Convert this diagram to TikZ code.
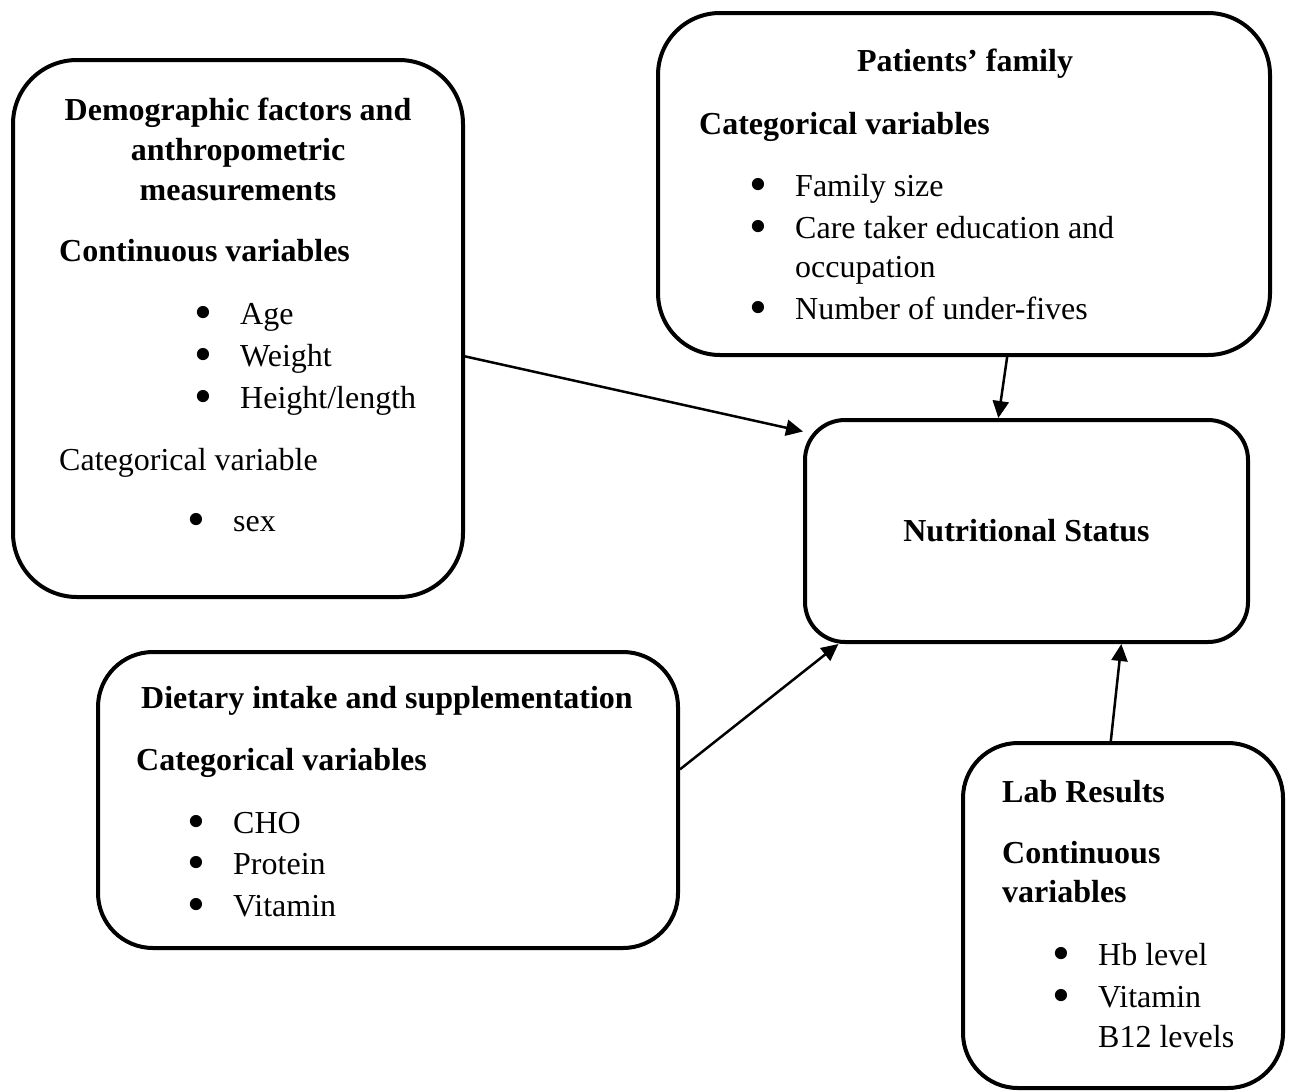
\documentclass[tikz,border=0pt]{standalone}
\usepackage{fontspec}
\setmainfont{Liberation Serif}
\usetikzlibrary{arrows.meta}

\newcommand{\bul}{\llap{\smash{\raisebox{-5pt}{\scalebox{1.6}{\textbullet}}}\hspace{28pt}}}

\tikzset{
  box/.style={draw, line width=4pt, rounded corners=55pt, inner sep=0pt},
  ttl/.style={font=\bfseries, anchor=base, inner sep=0pt},
  sub/.style={font=\bfseries, anchor=base west, inner sep=0pt},
  itm/.style={anchor=base west, inner sep=0pt},
  arr/.style={line width=2.5pt, -{Triangle[length=17pt,width=16pt]}},
}

\begin{document}
\fontsize{32pt}{41pt}\selectfont
\begin{tikzpicture}[x=1pt, y=-1pt]
    \useasboundingbox (0, 0) rectangle (1295, 1090);

    % Cajas
    \node[box, rounded corners=64pt, minimum width=450pt, minimum height=537pt] (demo) at (238, 328.5) {};
    \node[box, rounded corners=62pt, minimum width=612pt, minimum height=342pt] (fam) at (964, 184) {};
    \node[box, rounded corners=40pt, minimum width=443pt, minimum height=222pt, font=\bfseries] (nut) at (1026.5, 531) {Nutritional Status};
    \node[box, minimum width=580pt, minimum height=296pt] (diet) at (388, 800) {};
    \node[box, minimum width=320pt, minimum height=345pt] (lab) at (1123, 915.5) {};

    % Factores demográficos
    \node[ttl] (demoA) at (238, 120) {Demographic factors and};
    \node[ttl] (demoB) at (238, 160) {anthropometric};
    \node[ttl] (demoC) at (238, 200) {measurements};
    \node[sub] (demoCont) at (59, 261) {Continuous variables};
    \node[itm] (age) at (240, 324) {\bul Age};
    \node[itm] (weight) at (240, 366) {\bul Weight};
    \node[itm] (height) at (240, 408) {\bul Height/length};
    \node[itm] (demoCat) at (59, 470) {Categorical variable};
    \node[itm] (sex) at (233, 531) {\bul sex};

    % Familia
    \node[ttl] (famA) at (965, 71) {Patients’ family};
    \node[sub] (famCat) at (699, 134) {Categorical variables};
    \node[itm] (size) at (795, 196) {\bul Family size};
    \node[itm] (care) at (795, 238) {\bul Care taker education and};
    \node[itm] (occup) at (795, 277) {occupation};
    \node[itm] (under) at (795, 319) {\bul Number of under-fives};

    % Dieta
    \node[ttl] (dietA) at (387, 708) {Dietary intake and supplementation};
    \node[sub] (dietCat) at (136, 770) {Categorical variables};
    \node[itm] (cho) at (233, 833) {\bul CHO};
    \node[itm] (prot) at (233, 874) {\bul Protein};
    \node[itm] (vit) at (233, 916) {\bul Vitamin};

    % Laboratorio
    \node[sub] (labA) at (1002, 802) {Lab Results};
    \node[sub] (labB) at (1002, 863) {Continuous};
    \node[sub] (labC) at (1002, 902) {variables};
    \node[itm] (hb) at (1098, 965) {\bul Hb level};
    \node[itm] (bvit) at (1098, 1007) {\bul Vitamin};
    \node[itm] (blev) at (1098, 1047) {B12 levels};

    % Flechas
    \draw[arr] (demo.-7) -- (nut.156);
    \draw[arr] (fam.-76.5) -- (nut.104);
    \draw[arr] (diet.6) -- (nut.-149);
    \draw[arr] (lab.94) -- (nut.-50);

\end{tikzpicture}
\end{document}
